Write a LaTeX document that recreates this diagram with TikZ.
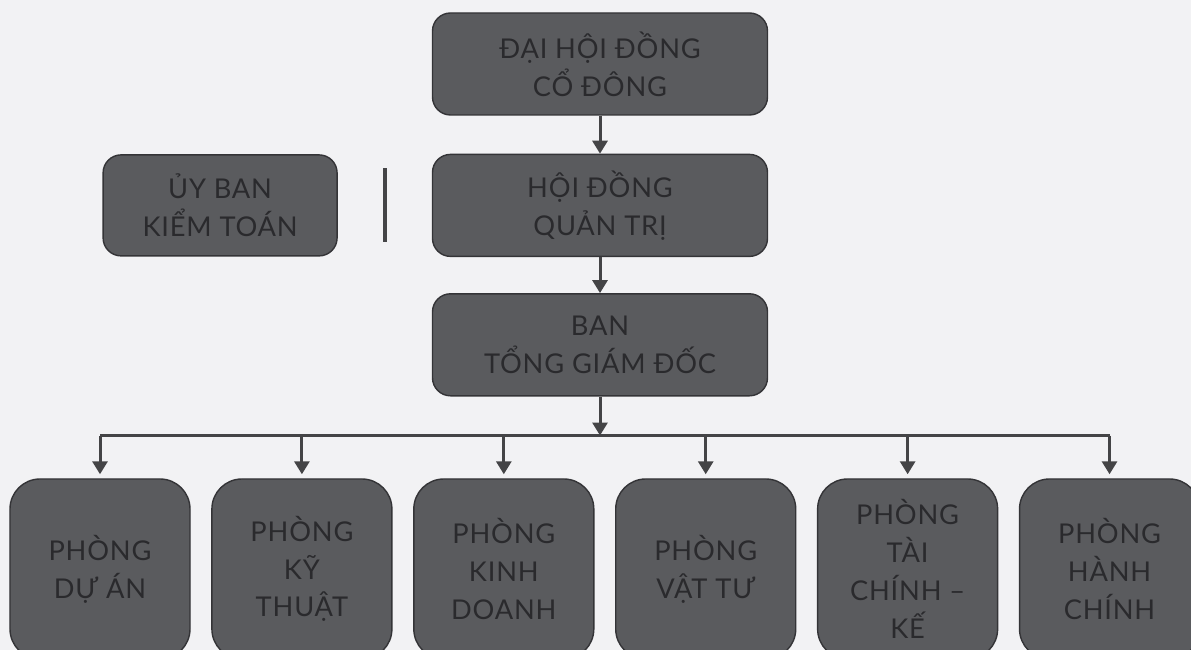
\documentclass[tikz,border=0pt]{standalone}
\usepackage{fontspec}
\setmainfont{Lato}[LetterSpace=3]
\usepackage{xcolor}
\usepackage{tikz}
\usetikzlibrary{positioning, arrows.meta, calc}

\definecolor{paper}{RGB}{242,242,244}
\definecolor{boxgray}{RGB}{90,91,94}
\definecolor{boxedge}{RGB}{52,52,55}
\definecolor{boxtext}{RGB}{42,42,45}
\definecolor{linegray}{RGB}{68,68,70}

\begin{document}
\begin{tikzpicture}[
      font=\fontsize{15.5}{21.5}\selectfont,
      every node/.style={align=center, draw=boxedge, line width=0.8pt, fill=boxgray, text=boxtext},
      box/.style={rounded corners=0.36cm, minimum width=6.7cm, minimum height=2.04cm},
      sidebox/.style={rounded corners=0.36cm, minimum width=4.68cm, minimum height=2.02cm},
      dept/.style={rounded corners=0.6cm, minimum width=3.6cm, minimum height=3.6cm},
      arrow/.style={-{Triangle[width=0.3cm, length=0.26cm]}, line width=0.06cm, draw=linegray},
      bar/.style={line width=0.06cm, draw=linegray}
  ]
  % Page ------------------------------------------------
  \useasboundingbox (0,0) rectangle (23.82,13);
  \fill[paper] (0,0) rectangle (23.82,13);
  \clip (0,0) rectangle (23.82,13);

  % Nodes ------------------------------------------------
  \node[box] (dhcd) at (12.0,11.72) {ĐẠI HỘI ĐỒNG\\ CỔ ĐÔNG};
  \node[box, below=0.76cm of dhcd] (hdqt) {HỘI ĐỒNG\\ QUẢN TRỊ};
  \node[box, below=0.72cm of hdqt] (btgd) {BAN\\ TỔNG GIÁM ĐỐC};
  \node[sidebox, left=1.88cm of hdqt] (ubkt) {ỦY BAN\\ KIỂM TOÁN};
  \coordinate (sep) at ($(ubkt.east)!0.5!(hdqt.west)$);
  \coordinate[below=0.78cm of btgd.south] (bus);

  \node[dept] (pda) at (2.0,1.62) {PHÒNG\\ DỰ ÁN};
  \node[dept, right=0.41cm of pda] (pkt) {PHÒNG\\ KỸ\\ THUẬT};
  \node[dept, right=0.41cm of pkt] (pkd) {PHÒNG\\ KINH\\ DOANH};
  \node[dept, right=0.41cm of pkd] (pvt) {PHÒNG\\ VẬT TƯ};
  \node[dept, right=0.41cm of pvt] (ptc) {PHÒNG\\ TÀI\\ CHÍNH –\\ KẾ};
  \node[dept, right=0.41cm of ptc] (phc) {PHÒNG\\ HÀNH\\ CHÍNH};

  % Arrows ------------------------------------------------
  \draw[arrow] (dhcd) -- (hdqt);
  \draw[arrow] (hdqt) -- (btgd);
  \draw[arrow] (btgd) -- (bus);
  \draw[bar, line width=0.08cm] ([yshift=0.74cm]sep) -- ([yshift=-0.74cm]sep);   % divider
  \draw[bar] (pda.north |- bus) -- (phc.north |- bus);                           % bus
  \draw[arrow, shorten >=0.08cm] (pda.north |- bus) -- (pda);
  \draw[arrow, shorten >=0.08cm] (pkt.north |- bus) -- (pkt);
  \draw[arrow, shorten >=0.08cm] (pkd.north |- bus) -- (pkd);
  \draw[arrow, shorten >=0.08cm] (pvt.north |- bus) -- (pvt);
  \draw[arrow, shorten >=0.08cm] (ptc.north |- bus) -- (ptc);
  \draw[arrow, shorten >=0.08cm] (phc.north |- bus) -- (phc);
\end{tikzpicture}
\end{document}
